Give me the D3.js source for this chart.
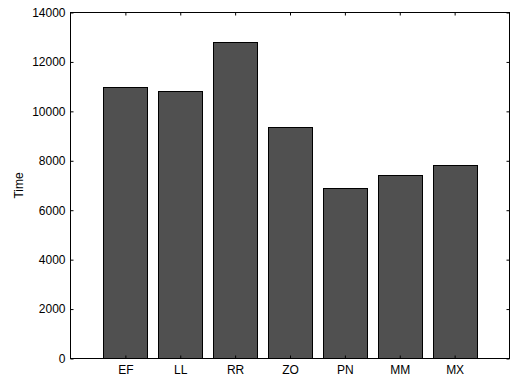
<!DOCTYPE html>
<html><head><meta charset="utf-8">
<script src="https://cdn.jsdelivr.net/npm/d3@7"></script>
<style>
body{margin:0;background:#fff;}
text{font-family:"Liberation Sans",Arial,Helvetica,sans-serif;font-size:12px;fill:#000;}
</style></head><body>
<svg id="c" width="514" height="379"></svg>
<script>
const categories = ["EF","LL","RR","ZO","PN","MM","MX"];
const values = [11000, 10840, 12800, 9380, 6890, 7430, 7830];
const yTicks = [0,2000,4000,6000,8000,10000,12000,14000];

const svg = d3.select("#c");
const L = 70.5, R = 509.5, T = 12.5, B = 358.5;
const x = d3.scaleLinear().domain([0, categories.length + 1]).range([L, R]);
const y = d3.scaleLinear().domain([0, 14000]).range([B, T]);
const bw = 0.8;

svg.append("rect").attr("x",L).attr("y",T).attr("width",R-L).attr("height",B-T)
  .attr("fill","#fff");

svg.selectAll("rect.bar").data(values).enter().append("rect")
  .attr("class","bar")
  .attr("x",(d,i)=>Math.round(x(i+1-bw/2))+0.5)
  .attr("width",(d,i)=>Math.round(x(i+1+bw/2))-Math.round(x(i+1-bw/2)))
  .attr("y",d=>Math.round(y(d))+0.5)
  .attr("height",d=>B-Math.round(y(d))-0.5)
  .attr("fill","#505050").attr("stroke","#000").attr("stroke-width",1);

const yAxis = d3.axisLeft(y).tickValues(yTicks).tickSize(-3).tickPadding(5).tickFormat(d3.format("d"));
const gL = svg.append("g").attr("transform",`translate(${L},0)`).call(yAxis);
const gR = svg.append("g").attr("transform",`translate(${R},0)`)
  .call(d3.axisRight(y).tickValues(yTicks).tickSize(-3).tickFormat(""));
const xAxis = d3.axisBottom(x).tickValues(d3.range(1,categories.length+1))
  .tickSize(-3).tickPadding(8).tickFormat(d=>categories[d-1]);
const gB = svg.append("g").attr("transform",`translate(0,${B})`).call(xAxis);
const gT = svg.append("g").attr("transform",`translate(0,${T})`)
  .call(d3.axisTop(x).tickValues(d3.range(1,categories.length+1)).tickSize(-3).tickFormat(""));

[gL,gR,gB,gT].forEach(g=>{
  g.select(".domain").remove();
  g.selectAll("line").attr("stroke","#000");
  g.selectAll("text").attr("font-size","12px").attr("fill","#000")
    .attr("font-family","Liberation Sans, Arial, sans-serif");
});
gB.selectAll("text").attr("dy","0.6em");

svg.append("rect").attr("x",L).attr("y",T).attr("width",R-L).attr("height",B-T)
  .attr("fill","none").attr("stroke","#000").attr("stroke-width",1);

svg.append("text").attr("transform",`translate(23,${(T+B)/2}) rotate(-90)`)
  .attr("text-anchor","middle").attr("fill","#000").attr("font-size","11px").text("Time");
</script>
</body></html>
